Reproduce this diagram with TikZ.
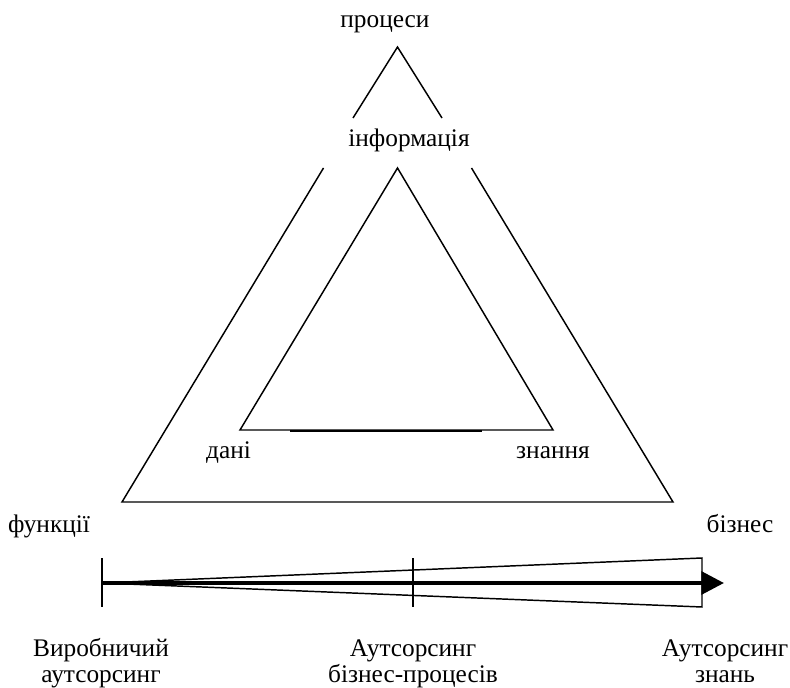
\documentclass[tikz,border=0pt]{standalone}
\usepackage{fontspec}
\setmainfont{Liberation Serif}
\usetikzlibrary{arrows.meta}

\begin{document}
\begin{tikzpicture}[x=0.75pt, y=-0.75pt, >=Triangle,
    lbl/.style={anchor=base, inner sep=0pt,
                font=\fontsize{19}{17.25}\selectfont},
    stage/.style={lbl, align=center,
                  font={\fontsize{19}{19.5}\selectfont\lineskiplimit=-100pt\relax}},
    edge/.style={line width=1.1pt, line join=miter}]

    \useasboundingbox (0,0) rectangle (790,688);

    \def\cx{397.5}
    \def\ay{583}
    \def\yt{558}
    \def\yb{607}

    % ── Vertices ─────────────────────────────────────────────────────────────
    \coordinate (top)  at (\cx,47);
    \coordinate (tl)   at (353,118);
    \coordinate (tr)   at (442,118);
    \coordinate (ol)   at (323.5,168);
    \coordinate (or)   at (471.5,168);
    \coordinate (obl)  at (122,502);
    \coordinate (obr)  at (673,502);
    \coordinate (itop) at (\cx,168);
    \coordinate (ibl)  at (240,430);
    \coordinate (ibr)  at (553,430);

    % ── Outer triangle, broken by the labels ─────────────────────────────────
    \draw[edge] (tl) -- (top) -- (tr);
    \draw[edge] (ol) -- (obl) -- (obr) -- (or);

    % ── Inner triangle ───────────────────────────────────────────────────────
    \draw[edge] (ibl) -- (itop) -- (ibr) -- cycle;
    \draw[line width=2pt] (290,431) -- (482,431);

    % ── Corner labels ────────────────────────────────────────────────────────
    \node[lbl] (proc) at (385,28)  {процеси};
    \node[lbl] (info) at (409,147) {інформація};
    \node[lbl] (dani) at (228.5,458) {дані};
    \node[lbl] (znan) at (553,458) {знання};
    \node[lbl] (func) at (49,532)  {функції};
    \node[lbl] (bizn) at (740,532) {бізнес};

    % ── Scale: wedge, ticks, arrow ───────────────────────────────────────────
    \coordinate (s0)  at (102,\ay);
    \coordinate (wt)  at (702,\yt);
    \coordinate (wb)  at (702,\yb);
    \coordinate (tip) at (724,\ay);

    \draw[edge] (s0) -- (wt) -- (wb) -- cycle;
    \foreach \x in {102, 413}
        \draw[edge] (\x,\yt) -- (\x,\yb);
    \draw[line width=3pt, -{Triangle[length=17pt, width=17pt]}] (s0) -- (tip);

    % ── Stage labels ─────────────────────────────────────────────────────────
    \node[stage] (vyr) at (101,682) {Виробничий\\аутсорсинг};
    \node[stage] (bpo) at (413,682) {Аутсорсинг\\бізнес-процесів};
    \node[stage] (kpo) at (725,682) {Аутсорсинг\\знань};

\end{tikzpicture}
\end{document}
